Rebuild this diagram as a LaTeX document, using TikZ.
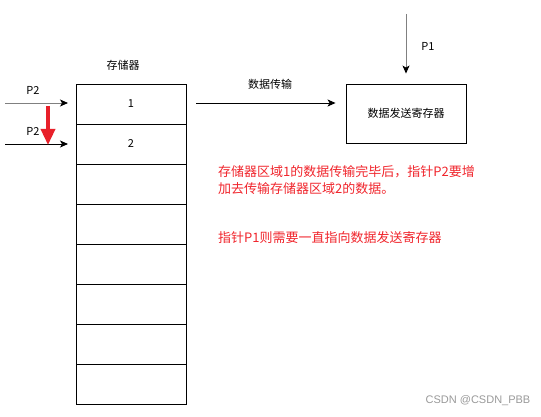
\documentclass[tikz,border=0pt]{standalone}
\usepackage{fontspec}
\setmainfont{Liberation Sans}
\newfontfamily\cjk{Noto Sans CJK SC}
\usetikzlibrary{arrows.meta}
\definecolor{redtxt}{HTML}{F0252C}
\definecolor{redarrow}{HTML}{E8202A}
\begin{document}
\begin{tikzpicture}[x=1pt,y=-1pt,
  cell/.style={draw,line width=0.9pt,minimum width=110pt,minimum height=40pt,inner sep=0,outer sep=0,font=\cjk\fontsize{11}{13}\selectfont},
  lbl/.style={font=\cjk\fontsize{11}{13}\selectfont,inner sep=0},
  arr/.style={line width=0.9pt,-{Stealth[length=8pt,width=7pt,inset=2pt,color=black]}},
  note/.style={font=\cjk\fontsize{13}{17}\selectfont,text=redtxt,anchor=west,inner sep=0}]
\useasboundingbox (0,0) rectangle (541,417);
% memory cells
\node[cell] (c1) at (131,104) {1};
\node[cell] (c2) at (131,144) {2};
\node[cell] (c3) at (131,184) {};
\node[cell] (c4) at (131,224) {};
\node[cell] (c5) at (131,264) {};
\node[cell] (c6) at (131,304) {};
\node[cell] (c7) at (131,344) {};
\node[cell] (c8) at (131,384) {};
\node[lbl] (mem) at (123,65) {存储器};
% P2 pointers
\coordinate (p2a) at (5,103);
\coordinate (p2b) at (5,144);
\draw[arr,draw=gray,shorten >=8pt] (p2a) -- (c1.west |- p2a);
\draw[arr,shorten >=8pt] (p2b) -- (c2.west |- p2b);
\node[lbl] (p2al) at (33,90) {P2};
\node[lbl] (p2bl) at (33,131) {P2};
\coordinate (rs) at (48,106);
\coordinate (re) at (48,145);
\draw[redarrow,line width=3.4pt,-{Triangle[length=16pt,width=14pt]}] (rs) -- (re);
% register
\node[draw,line width=0.9pt,minimum width=120pt,minimum height=59pt,inner sep=0,font=\cjk\fontsize{11}{13}\selectfont] (reg) at (406,113.5) {数据发送寄存器};
\coordinate (ts) at (196,103);
\draw[arr,shorten >=10pt] (ts) -- (reg.west |- ts);
\node[lbl] (tl) at (270,84) {数据传输};
\coordinate (p1s) at (406,14);
\draw[arr,draw=gray,shorten >=10pt] (p1s) -- (reg.north);
\node[lbl] (p1l) at (428,46) {P1};
% notes
\node[note] (n1) at (218,172) {存储器区域1的数据传输完毕后，指针P2要增};
\node[note] (n2) at (218,189) {加去传输存储器区域2的数据。};
\node[note] (n3) at (218,238) {指针P1则需要一直指向数据发送寄存器};
\node[font=\fontsize{11}{13}\selectfont,text=gray!80,inner sep=0] (wm) at (478,401) {CSDN @CSDN\_PBB};
\end{tikzpicture}
\end{document}
